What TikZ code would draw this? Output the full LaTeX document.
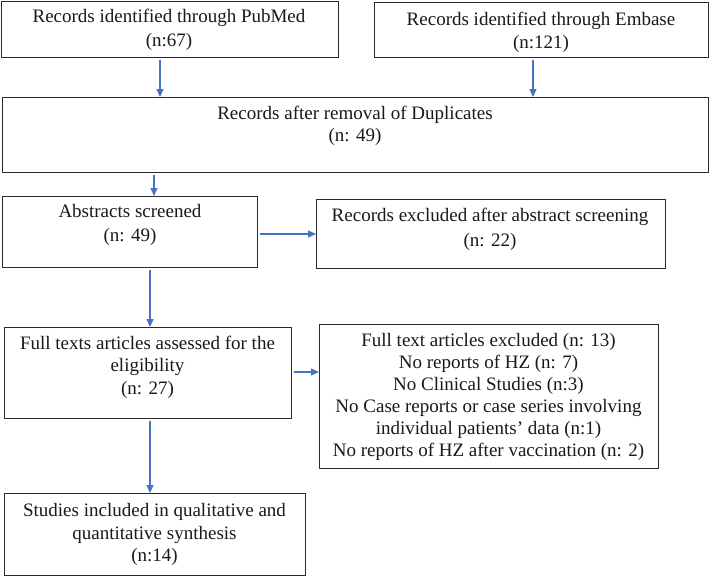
\documentclass[tikz,border=0pt]{standalone}
\usepackage{fontspec}
\setmainfont{Liberation Serif}
\usetikzlibrary{arrows.meta}
\definecolor{arrblue}{HTML}{4472C4}
\definecolor{boxline}{HTML}{2A2A2A}
\begin{document}
\begin{tikzpicture}[x=1pt,y=-1pt,
  box/.style={draw=boxline, line width=1.3pt, anchor=north west, inner sep=0pt},
  txt/.style={align=center, font=\fontsize{19pt}{22.5pt}\selectfont, text=black!90, inner sep=0pt},
  arr/.style={draw=arrblue, line width=1.2pt, -{Triangle[length=8pt,width=7pt]}, shorten <=1.5pt}
]
\useasboundingbox (0,0) rectangle (709,576);
\fill[white] (0,0) rectangle (709,576);

% boxes
\node[box, minimum width=337pt, minimum height=56.3pt] (pub) at (0.7,0.7) {};
\node[box, minimum width=334pt, minimum height=55.5pt] (emb) at (374,1.5) {};
\node[box, minimum width=706pt, minimum height=75pt] (dup) at (2,97) {};
\node[box, minimum width=255pt, minimum height=71pt] (abs) at (2,196) {};
\node[box, minimum width=349pt, minimum height=69pt] (rex) at (316,199) {};
\node[box, minimum width=287pt, minimum height=91pt] (ft) at (4,327) {};
\node[box, minimum width=339pt, minimum height=144pt] (fex) at (319,324) {};
\node[box, minimum width=301pt, minimum height=82pt] (stu) at (4,493) {};

% texts
\node[txt, font=\fontsize{19pt}{24pt}\selectfont] (pubt) at (169,30) {Records identified through PubMed\\(n:67)};
\node[txt, font=\fontsize{19pt}{23pt}\selectfont] (embt) at (541,32) {Records identified through Embase\\(n:121)};
\node[txt] (dupt) at (355,126) {Records after removal of Duplicates\\(n: 49)};
\node[txt, font=\fontsize{19pt}{24pt}\selectfont] (abst) at (130,225) {Abstracts screened\\(n: 49)};
\node[txt, font=\fontsize{19pt}{25pt}\selectfont] (rext) at (490,229.5) {Records excluded after abstract screening\\(n: 22)};
\node[txt] (ftt) at (147.5,367) {Full texts articles assessed for the\\eligibility\\(n: 27)};
\node[txt, font=\fontsize{19pt}{22pt}\selectfont] (fext) at (488.5,397) {Full text articles excluded (n: 13)\\No reports of HZ (n: 7)\\No Clinical Studies (n:3)\\No Case reports or case series involving\\individual patients’ data (n:1)\\No reports of HZ after vaccination (n: 2)};
\node[txt] (stut) at (154.5,534.5) {Studies included in qualitative and\\quantitative synthesis\\(n:14)};

% connectors
\coordinate (c1) at (160,0);
\coordinate (c2) at (533,0);
\coordinate (c3) at (154,0);
\coordinate (c4) at (0,234);
\coordinate (c5) at (150,0);
\coordinate (c6) at (0,372);
\draw[arr] (c1 |- pub.south) -- (c1 |- dup.north);
\draw[arr] (c2 |- emb.south) -- (c2 |- dup.north);
\draw[arr] (c3 |- dup.south) -- (c3 |- abs.north);
\draw[arr] (abs.east |- c4) -- (rex.west |- c4);
\draw[arr] (c5 |- abs.south) -- (c5 |- ft.north);
\draw[arr] (ft.east |- c6) -- (fex.west |- c6);
\draw[arr] (c5 |- ft.south) -- (c5 |- stu.north);
\end{tikzpicture}
\end{document}
